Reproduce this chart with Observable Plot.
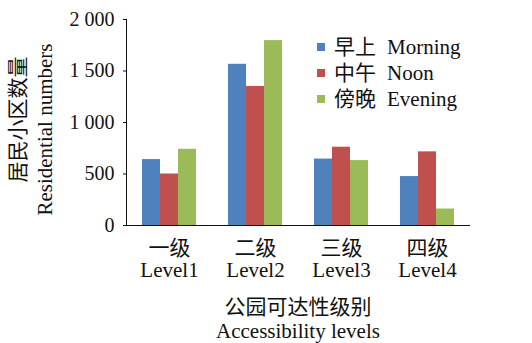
<!DOCTYPE html>
<html>
<head>
<meta charset="utf-8">
<script src="https://cdn.jsdelivr.net/npm/d3@7"></script>
<script src="https://cdn.jsdelivr.net/npm/@observablehq/plot@0.6"></script>
<style>
  body { margin: 0; background: #fff; }
  #wrap { position: relative; width: 532px; height: 343px; font-family: 'Liberation Serif', 'Noto Sans CJK SC', serif; color: #111; }
  .abs { position: absolute; white-space: nowrap; font-size: 21px; line-height: 21px; }
  .rot { text-align: center; width: 240px; transform: rotate(-90deg); }
  .xt { text-align: center; width: 300px; }
  .sw { display: inline-block; width: 8px; height: 8px; margin-right: 9px; vertical-align: middle; position: relative; top: -2px; }
</style>
</head>
<body>
<div id="wrap"></div>
<script>
const levelsCN = ["一级", "二级", "三级", "四级"];
const levelsEN = ["Level1", "Level2", "Level3", "Level4"];
const seriesCN = ["早上", "中午", "傍晚"];
const seriesEN = ["Morning", "Noon", "Evening"];
const colors = ["#4F81BD", "#C0504D", "#9BBB59"];
const morning = [640, 1565, 645, 475];
const noon = [500, 1350, 760, 715];
const evening = [740, 1795, 630, 160];
const yTicks = [0, 500, 1000, 1500, 2000];
const yTitleCN = "居民小区数量";
const yTitleEN = "Residential  numbers";
const xTitleCN = "公园可达性级别";
const xTitleEN = "Accessibility  levels";

const seriesValues = [morning, noon, evening];
const data = [];
levelsEN.forEach((lv, i) => {
  seriesEN.forEach((s, j) => data.push({level: lv, series: s, value: seriesValues[j][i]}));
});

const font = "'Liberation Serif', 'Noto Sans CJK SC', serif";
const chart = Plot.plot({
  width: 532,
  height: 285,
  marginLeft: 125,
  marginRight: 61,
  marginTop: 19,
  marginBottom: 60,
  style: {fontFamily: font, fontSize: "20px", color: "#111", background: "transparent"},
  fx: {domain: levelsEN, padding: 0, label: null},
  x: {domain: seriesEN, paddingInner: 0, paddingOuter: 0.776, axis: null},
  y: {domain: [0, 2000], ticks: yTicks, label: null, line: true, tickSize: 3, tickPadding: 9,
      tickFormat: d => d3.format(",")(d).replace(/,/g, " ")},
  color: {domain: seriesEN, range: colors},
  marks: [
    Plot.axisFx({anchor: "bottom", tickSize: 0, tickPadding: 13, fontSize: 21, lineHeight: 1.08, label: null,
                 tickFormat: d => levelsCN[levelsEN.indexOf(d)] + "\n" + d}),
    Plot.barY(data, {fx: "level", x: "series", y: "value", fill: "series", inset: 0}),
    Plot.ruleY([0], {stroke: "#111", strokeWidth: 1.2})
  ]
});

const wrap = document.getElementById("wrap");
chart.style.position = "absolute";
chart.style.left = "0px";
chart.style.top = "0px";
wrap.appendChild(chart);

function addAbs(text, cls, left, top) {
  const d = document.createElement("div");
  d.className = "abs " + cls;
  d.textContent = text;
  d.style.left = left + "px";
  d.style.top = top + "px";
  wrap.appendChild(d);
  return d;
}
// rotated y titles (center positions)
addAbs(yTitleCN, "rot", 18 - 120, 119 - 10);
addAbs(yTitleEN, "rot", 45 - 120, 129 - 10);
// x titles
addAbs(xTitleCN, "xt", 298 - 150, 307 - 10);
addAbs(xTitleEN, "xt", 298 - 150, 331 - 10);

// legend
seriesEN.forEach((s, j) => {
  const row = document.createElement("div");
  row.className = "abs";
  row.style.left = "317px";
  row.style.top = (37 + j * 26) + "px";
  const sw = document.createElement("span");
  sw.className = "sw";
  sw.style.background = colors[j];
  row.appendChild(sw);
  const cn = document.createElement("span");
  cn.textContent = seriesCN[j];
  cn.style.display = "inline-block";
  cn.style.width = "53px";
  row.appendChild(cn);
  const en = document.createElement("span");
  en.textContent = s;
  row.appendChild(en);
  wrap.appendChild(row);
});
</script>
</body>
</html>
